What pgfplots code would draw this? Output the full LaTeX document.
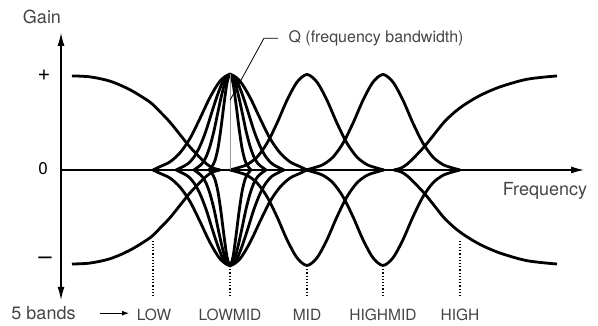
\documentclass[border=0pt]{standalone}
\usepackage{fontspec}
\setmainfont{TeX Gyre Heros}
\usepackage{pgfplots}
\usepackage{pgfplotstable}
\pgfplotsset{compat=1.18}
\usetikzlibrary{arrows.meta}
\definecolor{txt}{HTML}{454545}
\pgfplotsset{eq/.style={black, solid, line width=2.8pt, smooth, mark=none}}

% x in pixels, g = gain (+1 boost, -1 cut)
\pgfplotstableread{
x g n
72 0.985 -0.985
90 0.975 -0.975
110 0.93 -0.93
130 0.84 -0.84
150 0.71 -0.71
160 0.61 -0.61
170 0.50 -0.50
180 0.37 -0.37
190 0.24 -0.24
200 0.13 -0.13
207 0.06 -0.06
213 0.02 -0.02
220 0 0
}\tlowshelf
\pgfplotstableread{
x g n
394 0 0
401 0.02 -0.02
407 0.06 -0.06
414 0.13 -0.13
424 0.24 -0.24
434 0.37 -0.37
444 0.50 -0.50
454 0.60 -0.60
464 0.68 -0.68
480 0.78 -0.78
500 0.87 -0.87
527 0.95 -0.95
557 0.985 -0.985
}\thighshelf
\pgfplotstableread{
x g n
153 0 0
160 0.035 -0.035
170 0.085 -0.085
180 0.18 -0.18
190 0.33 -0.33
200 0.54 -0.54
210 0.76 -0.76
220 0.93 -0.93
230 1 -1
240 0.93 -0.93
250 0.76 -0.76
260 0.54 -0.54
270 0.33 -0.33
280 0.18 -0.18
290 0.085 -0.085
300 0.035 -0.035
307 0 0
}\tlowmidA
\pgfplotstableread{
x g n
176 0 0
182 0.03 -0.03
188 0.066 -0.066
194 0.135 -0.135
200 0.25 -0.25
206 0.41 -0.41
212 0.61 -0.61
218 0.80 -0.80
224 0.95 -0.95
230 1 -1
236 0.95 -0.95
242 0.80 -0.80
248 0.61 -0.61
254 0.41 -0.41
260 0.25 -0.25
266 0.135 -0.135
272 0.066 -0.066
278 0.03 -0.03
284 0 0
}\tlowmidB
\pgfplotstableread{
x g n
194 0 0
198 0.03 -0.03
202 0.066 -0.066
206 0.135 -0.135
210 0.25 -0.25
214 0.41 -0.41
218 0.61 -0.61
222 0.80 -0.80
226 0.95 -0.95
230 1 -1
234 0.95 -0.95
238 0.80 -0.80
242 0.61 -0.61
246 0.41 -0.41
250 0.25 -0.25
254 0.135 -0.135
258 0.066 -0.066
262 0.03 -0.03
266 0 0
}\tlowmidC
\pgfplotstableread{
x g n
209 0 0
212 0.037 -0.037
215 0.10 -0.10
218 0.23 -0.23
221 0.44 -0.44
224 0.69 -0.69
227 0.91 -0.91
230 1 -1
233 0.91 -0.91
236 0.69 -0.69
239 0.44 -0.44
242 0.23 -0.23
245 0.10 -0.10
248 0.037 -0.037
251 0 0
}\tlowmidD
\pgfplotstableread{
x g n
230 0 0
237 0.02 -0.02
247 0.056 -0.056
257 0.135 -0.135
267 0.28 -0.28
277 0.49 -0.49
287 0.73 -0.73
297 0.92 -0.92
307 1 -1
317 0.92 -0.92
327 0.73 -0.73
337 0.49 -0.49
347 0.28 -0.28
357 0.135 -0.135
367 0.056 -0.056
377 0.02 -0.02
384 0 0
}\tmid
\pgfplotstableread{
x g n
306 0 0
313 0.02 -0.02
323 0.056 -0.056
333 0.135 -0.135
343 0.28 -0.28
353 0.49 -0.49
363 0.73 -0.73
373 0.92 -0.92
383 1 -1
393 0.92 -0.92
403 0.73 -0.73
413 0.49 -0.49
423 0.28 -0.28
433 0.135 -0.135
443 0.056 -0.056
453 0.02 -0.02
460 0 0
}\thighmid

\begin{document}
\begin{tikzpicture}
\begin{axis}[
    at={(0,0)}, anchor=south west,
    width=598pt, height=326pt, scale only axis,
    xmin=0, xmax=598, ymin=-1.634, ymax=1.780,
    hide axis, clip=false,
]
\path (axis cs:0,-1.634) rectangle (axis cs:598,1.780);

% axes
\draw[line width=1.1pt, -{Latex[length=13pt,width=7pt]}] (axis cs:61,0) -- (axis cs:584,0);
\draw[line width=1.1pt, {Latex[length=13pt,width=7pt]}-{Latex[length=13pt,width=7pt]}]
    (axis cs:61,-1.36) -- (axis cs:61,1.435);

% curves
\addplot[eq] table[x=x, y=g] {\tlowshelf};
\addplot[eq] table[x=x, y=n] {\tlowshelf};
\addplot[eq] table[x=x, y=g] {\thighshelf};
\addplot[eq] table[x=x, y=n] {\thighshelf};
\addplot[eq] table[x=x, y=g] {\tlowmidA};
\addplot[eq] table[x=x, y=n] {\tlowmidA};
\addplot[eq] table[x=x, y=g] {\tlowmidB};
\addplot[eq] table[x=x, y=n] {\tlowmidB};
\addplot[eq] table[x=x, y=g] {\tlowmidC};
\addplot[eq] table[x=x, y=n] {\tlowmidC};
\addplot[eq] table[x=x, y=g] {\tlowmidD};
\addplot[eq] table[x=x, y=n] {\tlowmidD};
\addplot[eq] table[x=x, y=g] {\tmid};
\addplot[eq] table[x=x, y=n] {\tmid};
\addplot[eq] table[x=x, y=g] {\thighmid};
\addplot[eq] table[x=x, y=n] {\thighmid};

% Q marker
\draw[gray!80, line width=0.9pt] (axis cs:230,0) -- (axis cs:230,1);
\draw[black, line width=0.8pt] (axis cs:230,0.73) -- (axis cs:264,1.38) -- (axis cs:278,1.38);
\node[txt, anchor=west, font=\fontsize{16}{18}\selectfont] at (axis cs:285,1.38) {Q (frequency bandwidth)};

% band markers
\draw[black, line width=1.1pt, dash pattern=on 1.2pt off 2pt] (axis cs:153,-0.74) -- (axis cs:153,-1.34);
\draw[black, line width=1.1pt, dash pattern=on 1.2pt off 2pt] (axis cs:230,-1.04) -- (axis cs:230,-1.34);
\draw[black, line width=1.1pt, dash pattern=on 1.2pt off 2pt] (axis cs:307,-1.04) -- (axis cs:307,-1.34);
\draw[black, line width=1.1pt, dash pattern=on 1.2pt off 2pt] (axis cs:383,-1.04) -- (axis cs:383,-1.34);
\draw[black, line width=1.1pt, dash pattern=on 1.2pt off 2pt] (axis cs:460,-0.74) -- (axis cs:460,-1.34);

% labels
\node[txt, font=\fontsize{18}{20}\selectfont] at (axis cs:42,1.60) {Gain};
\node[black, font=\fontsize{22}{24}\selectfont] at (axis cs:44,0.995) {+};
\node[black, font=\fontsize{17}{18}\selectfont] at (axis cs:43,0.01) {0};
\node[black, font=\fontsize{24}{24}\selectfont] at (axis cs:45,-0.95) {–};
\node[txt, font=\fontsize{18}{20}\selectfont] at (axis cs:545,-0.22) {Frequency};
\node[txt, font=\fontsize{18}{20}\selectfont] at (axis cs:43.5,-1.50) {5 bands};
\draw[black, line width=1pt, -{Latex[length=7pt,width=5pt]}] (axis cs:100,-1.50) -- (axis cs:129,-1.50);
\node[txt, font=\fontsize{15.5}{18}\selectfont] at (axis cs:154,-1.52) {LOW};
\node[txt, font=\fontsize{15.5}{18}\selectfont] at (axis cs:230,-1.52) {LOWMID};
\node[txt, font=\fontsize{15.5}{18}\selectfont] at (axis cs:307,-1.52) {MID};
\node[txt, font=\fontsize{15.5}{18}\selectfont] at (axis cs:383,-1.52) {HIGHMID};
\node[txt, font=\fontsize{15.5}{18}\selectfont] at (axis cs:460,-1.52) {HIGH};
\end{axis}
\end{tikzpicture}
\end{document}
